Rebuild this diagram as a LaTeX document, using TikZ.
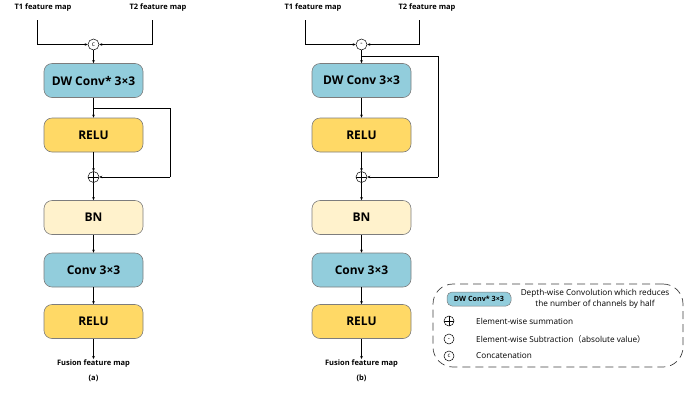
\documentclass[tikz,border=0pt]{standalone}
\usepackage{fontspec}
\setmainfont{Open Sans}
\newfontfamily\cjk{Noto Sans CJK SC}
\usetikzlibrary{arrows.meta}
\definecolor{blu}{RGB}{146,205,220}
\definecolor{gold}{RGB}{255,217,102}
\definecolor{cream}{RGB}{255,242,204}
\definecolor{edge}{RGB}{125,125,125}
\begin{document}
\begin{tikzpicture}[x=1pt,y=-1pt,
  box/.style={draw=edge, line width=0.6pt, rounded corners=8pt, minimum width=99pt, minimum height=34pt, inner sep=0pt, font=\fontsize{12}{14}\selectfont\bfseries},
  bluebox/.style={box, fill=blu},
  goldbox/.style={box, fill=gold},
  creambox/.style={box, fill=cream},
  circ/.style={circle, draw, line width=0.5pt, minimum size=11pt, inner sep=0pt, fill=white},
  pluscirc/.style={circ, path picture={\draw[line width=0.5pt] (path picture bounding box.north) -- (path picture bounding box.south) (path picture bounding box.west) -- (path picture bounding box.east);}},
  lbl/.style={font=\fontsize{7.5}{9}\selectfont\bfseries, inner sep=1pt},
  arr/.style={line width=0.6pt, -{Stealth[length=3pt,width=2.6pt]}},
  ln/.style={line width=0.6pt},
  leg/.style={font=\fontsize{8.2}{10.5}\selectfont, inner sep=0pt}
]
\useasboundingbox (0,0) rectangle (699,392);

% ---------- (a) ----------
\node[lbl] (t1a) at (43,8) {T1 feature map};
\node[lbl] (t2a) at (158,8) {T2 feature map};
\coordinate (t1as) at (37,20);
\coordinate (t2as) at (152,20);
\node[circ] (ca) at (93.5,44.5) {\fontsize{6.5}{6.5}\selectfont c};
\node[bluebox] (dwa) at (93.5,80.5) {DW Conv* 3×3};
\node[goldbox] (r1a) at (93.5,135) {RELU};
\node[pluscirc] (pa) at (93.5,177) {};
\node[creambox] (bna) at (93.5,217.5) {BN};
\node[bluebox] (cva) at (93.5,270) {Conv 3×3};
\node[goldbox] (r2a) at (93.5,321.5) {RELU};
\node[lbl] (fa) at (93.5,364) {Fusion feature map};
\node[lbl] (la) at (93.5,378) {(a)};
\coordinate (ba) at (93.5,108);
\coordinate (sa1) at (170,108);
\coordinate (sa2) at (170,177);

\draw[arr] (t1as) |- (ca.west);
\draw[arr] (t2as) |- (ca.east);
\draw[arr] (ca.south) -- (dwa.north);
\draw[arr] (dwa.south) -- (r1a.north);
\draw[ln] (ba) -- (sa1) -- (sa2);
\draw[arr] (sa2) -- (pa.east);
\draw[arr] (r1a.south) -- (pa.north);
\draw[arr] (pa.south) -- (bna.north);
\draw[arr] (bna.south) -- (cva.north);
\draw[arr] (cva.south) -- (r2a.north);
\draw[arr] (r2a.south) -- (fa.north);

% ---------- (b) ----------
\node[lbl] (t1b) at (313,8) {T1 feature map};
\node[lbl] (t2b) at (427,8) {T2 feature map};
\coordinate (t1bs) at (305,20);
\coordinate (t2bs) at (419,20);
\node[circ] (mb) at (361.5,44.5) {\fontsize{7}{7}\selectfont -};
\node[bluebox] (dwb) at (361.5,80.5) {DW Conv 3×3};
\node[goldbox] (r1b) at (361.5,135) {RELU};
\node[pluscirc] (pb) at (361.5,177) {};
\node[creambox] (bnb) at (361.5,217.5) {BN};
\node[bluebox] (cvb) at (361.5,270) {Conv 3×3};
\node[goldbox] (r2b) at (361.5,321.5) {RELU};
\node[lbl] (fb) at (361.5,364) {Fusion feature map};
\node[lbl] (lb) at (361.5,378) {(b)};
\coordinate (bb) at (361.5,56);
\coordinate (sb1) at (438,56);
\coordinate (sb2) at (438,177);

\draw[arr] (t1bs) |- (mb.west);
\draw[arr] (t2bs) |- (mb.east);
\draw[arr] (mb.south) -- (dwb.north);
\draw[arr] (dwb.south) -- (r1b.north);
\draw[ln] (bb) -- (sb1) -- (sb2);
\draw[arr] (sb2) -- (pb.east);
\draw[arr] (r1b.south) -- (pb.north);
\draw[arr] (pb.south) -- (bnb.north);
\draw[arr] (bnb.south) -- (cvb.north);
\draw[arr] (cvb.south) -- (r2b.north);
\draw[arr] (r2b.south) -- (fb.north);

% ---------- legend ----------
\node[draw=black!75, line width=0.7pt, dash pattern=on 8pt off 5pt, rounded corners=20pt, minimum width=250pt, minimum height=83pt, inner sep=0pt] (legend) at (558,325.5) {};
\node[draw=edge, fill=blu, line width=0.5pt, rounded corners=5pt, minimum width=64pt, minimum height=14pt, inner sep=0pt, font=\fontsize{7.2}{8}\selectfont\bfseries] (legdw) at (479,299) {DW Conv* 3×3};
\node[leg, align=center] (legdwt) at (595,299) {Depth-wise Convolution which reduces\\the number of channels by half};
\node[pluscirc, minimum size=10pt] (legp) at (449,321) {};
\node[leg, anchor=west] (legpt) at (476,321) {Element-wise summation};
\node[circ, minimum size=10pt] (legm) at (449,339) {\fontsize{6.5}{6.5}\selectfont -};
\node[leg, anchor=west] (legmt) at (476,339) {Element-wise Subtraction{\cjk （}absolute value{\cjk ）}};
\node[circ, minimum size=10pt] (legc) at (449,356) {\fontsize{6}{6}\selectfont c};
\node[leg, anchor=west] (legct) at (476,356) {Concatenation};
\end{tikzpicture}
\end{document}
